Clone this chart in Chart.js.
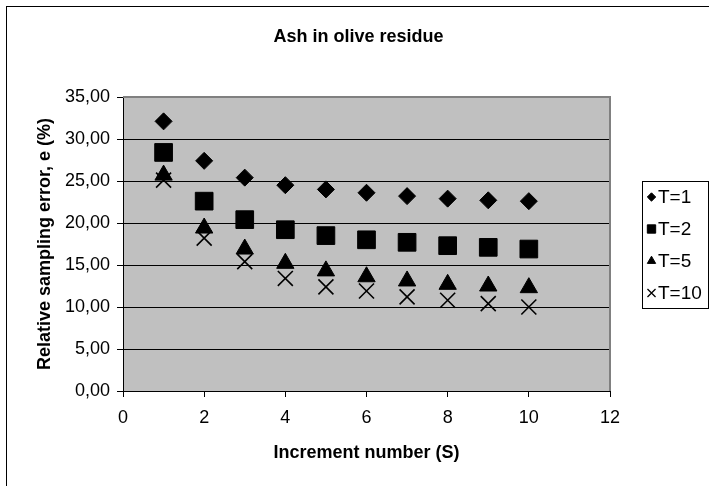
<!DOCTYPE html>
<html>
<head>
<meta charset="utf-8">
<title>Ash in olive residue</title>
<script src="https://cdn.jsdelivr.net/npm/chart.js@4.4.1/dist/chart.umd.min.js"></script>
<style>
  html, body { margin: 0; padding: 0; background: #fff; }
  #wrap { width: 709px; height: 486px; }
</style>
</head>
<body>
<div id="wrap"><canvas id="ashChart" width="709" height="486"></canvas></div>
<script>
// Relative sampling error e (%) against increment number S, one series per T
const increments = [1, 2, 3, 4, 5, 6, 7, 8, 9, 10];
const seriesNames = ['T=1', 'T=2', 'T=5', 'T=10'];
const errT1  = [32.1, 27.4, 25.4, 24.5, 24.0, 23.6, 23.2, 22.9, 22.7, 22.6];
const errT2  = [28.4, 22.6, 20.4, 19.2, 18.5, 18.0, 17.7, 17.3, 17.1, 16.9];
const errT5  = [25.7, 19.4, 16.9, 15.2, 14.3, 13.6, 13.1, 12.7, 12.5, 12.3];
const errT10 = [25.1, 18.2, 15.4, 13.4, 12.4, 11.9, 11.2, 10.8, 10.4, 10.0];

const FONT = "'Liberation Sans', Arial, sans-serif";

const markers = [
  { style: 'rectRot',  radius: 8.5,  legendRadius: 4.2 },
  { style: 'rect',     radius: 12.5, legendRadius: 5.9 },
  { style: 'triangle', radius: 10,   legendRadius: 4.8 },
  { style: 'crossRot', radius: 10.6, legendRadius: 5.7 }
];

function toPoints(values) {
  return increments.map((s, i) => ({ x: s, y: values[i] }));
}

function commaFixed(v) {
  return Number(v).toFixed(2).replace('.', ',');
}

// white page, outer frame, grey plot area with grey top/right edge
const frame = {
  id: 'frame',
  beforeDraw(chart) {
    const { ctx, chartArea: a } = chart;
    ctx.save();
    ctx.fillStyle = '#fff';
    ctx.fillRect(0, 0, chart.width, chart.height);
    ctx.strokeStyle = '#000';
    ctx.lineWidth = 1;
    ctx.strokeRect(6.5, 6.5, chart.width + 20, chart.height + 20);
    ctx.fillStyle = '#c0c0c0';
    ctx.fillRect(a.left, a.top, a.right - a.left, a.bottom - a.top);
    ctx.restore();
  },
  beforeDatasetsDraw(chart) {
    const { ctx, chartArea: a } = chart;
    ctx.save();
    ctx.strokeStyle = '#808080';
    ctx.lineWidth = 2;
    ctx.beginPath();
    ctx.moveTo(a.left, a.top);
    ctx.lineTo(a.right, a.top);
    ctx.lineTo(a.right, a.bottom);
    ctx.stroke();
    ctx.restore();
  }
};

// boxed legend to the right of the plot
const boxedLegend = {
  id: 'boxedLegend',
  afterDraw(chart) {
    const { ctx } = chart;
    const drawPoint = Chart.helpers.drawPoint;
    ctx.save();
    ctx.strokeStyle = '#000';
    ctx.lineWidth = 1;
    ctx.strokeRect(642.5, 181.5, 66, 127);
    ctx.font = '19px ' + FONT;
    ctx.textBaseline = 'middle';
    ctx.textAlign = 'left';
    chart.data.datasets.forEach((ds, i) => {
      const y = 197 + i * 32;
      ctx.fillStyle = '#000';
      ctx.strokeStyle = '#000';
      ctx.lineWidth = ds.pointStyle === 'crossRot' ? 1.3 : 1;
      drawPoint(ctx, { pointStyle: ds.pointStyle, rotation: 0, radius: markers[i].legendRadius, borderWidth: ctx.lineWidth }, 651.5, y);
      ctx.fillStyle = '#000';
      ctx.fillText(ds.label, 658, y + 1);
    });
    ctx.restore();
  }
};

const datasets = [errT1, errT2, errT5, errT10].map((vals, i) => ({
  label: seriesNames[i],
  data: toPoints(vals),
  showLine: false,
  pointStyle: markers[i].style,
  pointRadius: markers[i].radius,
  pointHoverRadius: markers[i].radius,
  pointBackgroundColor: '#000',
  pointBorderColor: '#000',
  pointBorderWidth: markers[i].style === 'crossRot' ? 1.6 : 1
}));

new Chart(document.getElementById('ashChart'), {
  type: 'scatter',
  data: { datasets },
  plugins: [frame, boxedLegend],
  options: {
    responsive: false,
    animation: false,
    devicePixelRatio: 1,
    layout: { padding: { left: 8, right: 0, top: 0, bottom: 0 } },
    plugins: {
      legend: { display: false },
      tooltip: { enabled: false },
      title: {
        display: true,
        text: 'Ash in olive residue',
        color: '#000',
        font: { family: FONT, size: 18, weight: 'bold' },
        padding: { top: 26, bottom: 49.4 }
      }
    },
    scales: {
      x: {
        type: 'linear',
        min: 0,
        max: 12,
        ticks: {
          stepSize: 2,
          color: '#000',
          padding: 10,
          font: { family: FONT, size: 18 }
        },
        grid: { drawOnChartArea: false, drawTicks: true, tickLength: 6, color: '#000', tickColor: '#000' },
        border: { display: true, color: '#000', width: 1 },
        title: {
          display: true,
          text: 'Increment number (S)',
          color: '#000',
          font: { family: FONT, size: 18, weight: 'bold' },
          padding: { top: 0, bottom: 22 }
        },
        afterFit(scale) { scale.height = 95; }
      },
      y: {
        type: 'linear',
        min: 0,
        max: 35,
        ticks: {
          stepSize: 5,
          color: '#000',
          padding: 7,
          font: { family: FONT, size: 18 },
          callback: v => commaFixed(v)
        },
        grid: {
          drawTicks: true,
          tickLength: 6,
          tickColor: '#000',
          color: ctx => (ctx.tick && ctx.tick.value === 35) ? 'rgba(0,0,0,0)' : '#000',
          lineWidth: 1
        },
        border: { display: true, color: '#000', width: 1 },
        title: {
          display: true,
          text: 'Relative sampling error, e (%)',
          color: '#000',
          font: { family: FONT, size: 18, weight: 'bold' },
          padding: { top: 26, bottom: 0 }
        },
        afterFit(scale) { scale.width = 115; }
      },
      // spacer on the right that keeps room for the legend box
      spacer: {
        type: 'linear',
        position: 'right',
        min: 0,
        max: 1,
        ticks: { display: false },
        grid: { display: false, drawTicks: false },
        border: { display: false },
        afterFit(scale) { scale.width = 99; }
      }
    }
  }
});
</script>
</body>
</html>
